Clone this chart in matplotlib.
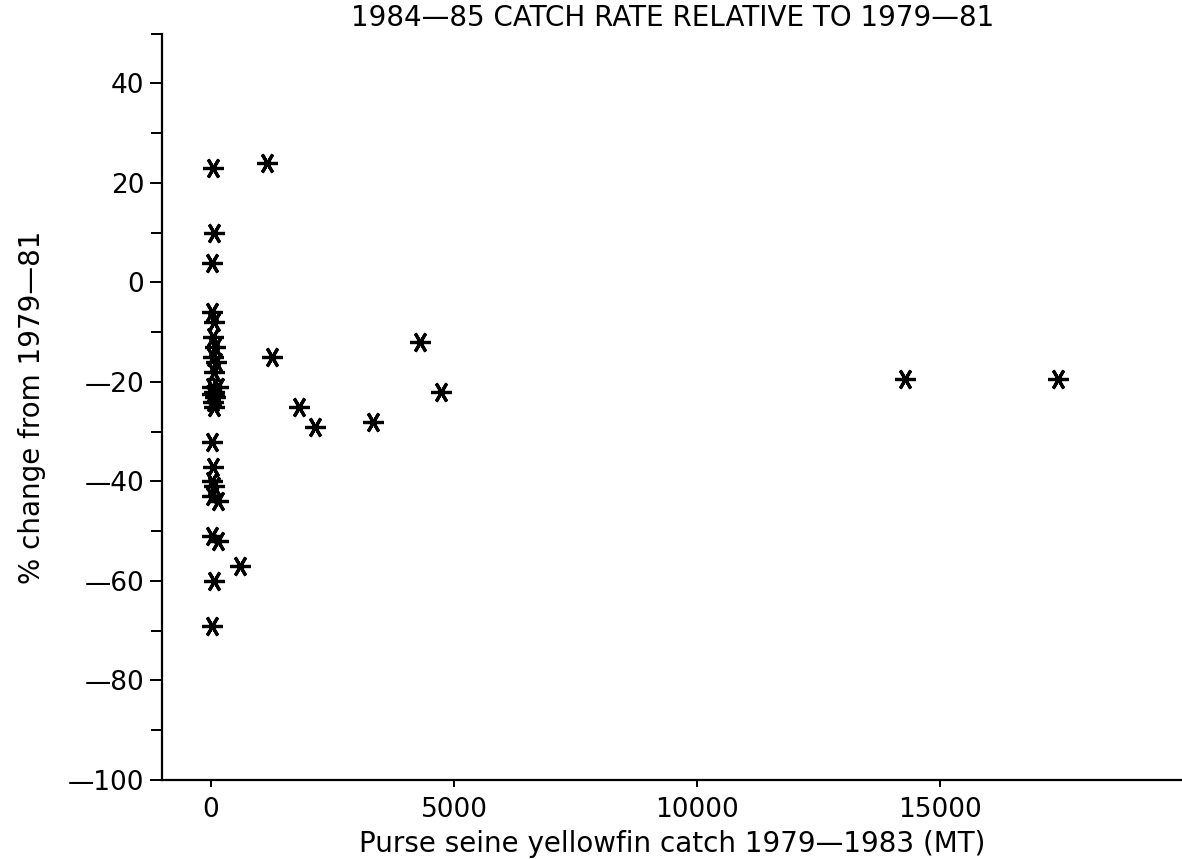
import matplotlib
matplotlib.use("Agg")
import matplotlib.pyplot as plt
from matplotlib.ticker import FixedLocator, MultipleLocator, FuncFormatter

# Purse seine yellowfin catch 1979-1983 (MT) per area
catch_mt = [
    40, 60, 20,
    30, 60, 40, 80, 50, 100, 70,
    150, 30, 60, 20, 90, 40, 70,
    20,
    50, 30, 70, 20, 150,
    20, 150,
    70, 15,
    1160, 1250, 1800, 2140, 3330, 4300, 4730, 600, 14280, 17410,
]

# % change in 1984-85 catch rate relative to 1979-81
pct_change = [
    23, 10, 4,
    -6, -8, -11, -13, -15, -16, -18,
    -21, -21, -22, -22.5, -23, -24, -25,
    -32,
    -37, -40, -41, -43, -44,
    -51, -52,
    -60, -69,
    24, -15, -25, -29, -28, -12, -22, -57, -19.5, -19.5,
]

x_ticks = [0, 5000, 10000, 15000]
y_ticks = [-100, -80, -60, -40, -20, 0, 20, 40]

plt.rcParams["font.family"] = ["DejaVu Sans"]

W, H = 1182, 859
fig = plt.figure(figsize=(W / 100, H / 100), dpi=100)
ax = fig.add_axes([162.4 / W, 1 - 780 / H, (W - 1 - 162.4) / W, (780 - 33.7) / H])

ax.plot(catch_mt, pct_change, linestyle="none", marker=(6, 2, 90),
        markersize=15, markeredgewidth=2.3, color="black")

ax.set_xlim(-1000, 19950)
ax.set_ylim(-100, 50)

for side in ("top", "right"):
    ax.spines[side].set_visible(False)
for side in ("left", "bottom"):
    ax.spines[side].set_linewidth(1.6)
    ax.spines[side].set_color("black")


def dash_fmt(v, pos):
    s = f"{int(round(v))}"
    return s.replace("-", "\u2014")


ax.xaxis.set_major_locator(FixedLocator(x_ticks))
ax.yaxis.set_major_locator(FixedLocator(y_ticks))
ax.yaxis.set_minor_locator(MultipleLocator(10))
ax.xaxis.set_major_formatter(FuncFormatter(dash_fmt))
ax.yaxis.set_major_formatter(FuncFormatter(dash_fmt))

ax.tick_params(axis="y", which="major", direction="out", length=9, width=1.4,
               pad=4, labelsize=19)
ax.tick_params(axis="y", which="minor", direction="out", length=8, width=1.4)
ax.tick_params(axis="x", which="major", direction="out", length=5, width=1.4,
               pad=7, labelsize=19)

ax.set_xlabel("Purse seine yellowfin catch 1979\u20141983 (MT)", fontsize=20,
              labelpad=5)
ax.set_ylabel("% change from 1979\u201481", fontsize=20, labelpad=16)

fig.text((162.4 + W) / 2 / W, 1 - 18 / H,
         "1984\u201485 CATCH RATE RELATIVE TO 1979\u201481",
         ha="center", va="center", fontsize=20)

fig.savefig("out.png", dpi=100, facecolor="white")
